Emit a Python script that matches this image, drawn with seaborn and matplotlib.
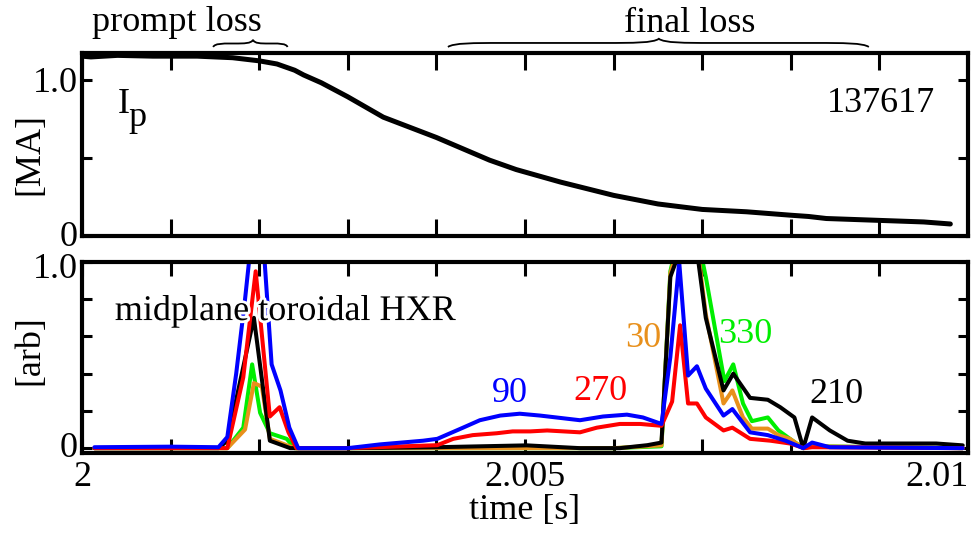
import numpy as np
import pandas as pd
import matplotlib
matplotlib.use("Agg")
import matplotlib.pyplot as plt
import matplotlib.transforms as mtransforms
import matplotlib.patheffects as pe
from matplotlib.path import Path
from matplotlib.patches import PathPatch
import seaborn as sns

# ---- plasma current, shot 137617 (time in ms after t = 2 s) ----
ip_ms = [0.0, 0.1, 0.4, 0.8, 1.3, 1.7, 2.0, 2.2, 2.4, 2.5, 2.7, 3.0, 3.4,
         4.0, 4.6, 4.9, 5.4, 6.0, 6.5, 7.0, 7.5, 8.0, 8.2, 8.4, 9.0, 9.5, 9.8]
ip_ma = [1.15, 1.145, 1.155, 1.15, 1.15, 1.14, 1.12, 1.10, 1.06, 1.03, 0.98,
         0.89, 0.76, 0.63, 0.485, 0.425, 0.345, 0.26, 0.205, 0.17, 0.155, 0.133,
         0.125, 0.112, 0.10, 0.09, 0.077]

# ---- midplane toroidal HXR array, normalised (time in ms after t = 2 s) ----
hxr90_ms = [0.14, 1.0, 1.54, 1.64, 1.74, 1.84, 1.94, 2.04, 2.14, 2.24,
            2.34, 2.44, 3.0, 3.36, 3.85, 4.01, 4.30, 4.49, 4.72, 4.94,
            5.17, 5.62, 5.88, 6.15, 6.33, 6.54, 6.64, 6.74, 6.84, 6.94,
            7.04, 7.24, 7.34, 7.54, 7.74, 7.94, 8.14, 8.24, 8.44, 9.94]
hxr90 = [0.005, 0.008, 0.005, 0.06, 0.40, 0.80, 1.25, 1.15, 0.45, 0.31,
         0.11, 0.0, 0.0, 0.02, 0.04, 0.05, 0.11, 0.15, 0.175, 0.185,
         0.175, 0.15, 0.17, 0.18, 0.165, 0.13, 0.49, 1.0, 0.39, 0.44,
         0.32, 0.175, 0.21, 0.085, 0.07, 0.04, 0.0, 0.03, 0.005, 0.0]

hxr270_ms = [0.14, 1.64, 1.82, 1.96, 2.12, 2.23, 2.33, 2.42, 3.0, 4.01,
             4.19, 4.41, 4.68, 4.86, 5.06, 5.25, 5.62, 5.81, 6.07, 6.30,
             6.54, 6.66, 6.75, 6.84, 6.94, 7.04, 7.24, 7.34, 7.54, 7.77,
             7.99, 8.15, 8.24, 9.94]
hxr270 = [0.0, 0.0, 0.38, 0.95, 0.17, 0.22, 0.085, 0.0, 0.0, 0.016,
          0.05, 0.07, 0.08, 0.09, 0.09, 0.095, 0.085, 0.11, 0.13, 0.13,
          0.12, 0.25, 0.66, 0.24, 0.24, 0.165, 0.095, 0.11, 0.05, 0.04,
          0.025, 0.0, 0.005, 0.0]

hxr210_ms = [0.14, 1.54, 1.64, 1.94, 2.12, 2.35, 3.0, 4.0, 5.02, 5.62,
             6.07, 6.38, 6.54, 6.64, 6.74, 6.94, 7.04, 7.24, 7.35, 7.54,
             7.74, 7.88, 8.04, 8.14, 8.24, 8.44, 8.64, 8.84, 9.64, 9.94]
hxr210 = [0.0, 0.0, 0.04, 0.70, 0.04, 0.0, 0.0, 0.005, 0.015, 0.0,
          0.0, 0.016, 0.03, 0.92, 1.05, 1.06, 0.70, 0.31, 0.40, 0.27,
          0.26, 0.22, 0.165, 0.0, 0.165, 0.095, 0.04, 0.025, 0.025, 0.015]

hxr30_ms = [0.14, 1.64, 1.84, 1.94, 2.03, 2.12, 2.40, 3.0, 6.0, 6.54,
            6.64, 6.74, 6.94, 7.04, 7.24, 7.34, 7.46, 7.56, 7.74, 7.86,
            7.99, 8.14, 8.24, 9.94]
hxr30 = [0.0, 0.0, 0.10, 0.35, 0.33, 0.05, 0.0, 0.0, 0.0, 0.015,
         0.94, 1.10, 1.10, 0.72, 0.24, 0.31, 0.165, 0.105, 0.105, 0.07,
         0.05, 0.0, 0.01, 0.0]

hxr330_ms = [0.14, 1.64, 1.82, 1.92, 2.01, 2.12, 2.31, 2.40, 3.0, 6.0,
             6.54, 6.64, 6.74, 6.94, 7.04, 7.25, 7.35, 7.46, 7.56, 7.74,
             7.86, 7.99, 8.14, 8.24, 9.94]
hxr330 = [0.0, 0.0, 0.11, 0.45, 0.19, 0.08, 0.05, 0.0, 0.0, 0.0,
          0.01, 0.95, 1.15, 1.15, 0.92, 0.36, 0.45, 0.24, 0.145, 0.165,
          0.095, 0.05, 0.0, 0.01, 0.0]

channel_labels = ["330", "30", "210", "270", "90"]
channel_colors = ["#00EE00", "#E8901C", "#000000", "#FF0000", "#0000FF"]
channel_times = [hxr330_ms, hxr30_ms, hxr210_ms, hxr270_ms, hxr90_ms]
channel_values = [hxr330, hxr30, hxr210, hxr270, hxr90]

x_ticks = [2.0, 2.001, 2.002, 2.003, 2.004, 2.005, 2.006, 2.007, 2.008, 2.009, 2.01]
x_ticklabels = ["2", "", "", "", "", "2.005", "", "", "", "", "2.01"]

T0 = 2.0
FS = 26


def to_s(ms):
    return T0 + np.asarray(ms) / 1000.0


sns.set_theme(style="ticks")
plt.rcParams.update({
    "font.family": ["Liberation Serif", "DejaVu Serif"],
    "font.size": FS,
    "axes.linewidth": 3.0,
    "text.color": "black",
    "axes.labelcolor": "black",
    "axes.edgecolor": "black",
    "xtick.color": "black",
    "ytick.color": "black",
    "xtick.labelsize": FS,
    "ytick.labelsize": FS,
    "axes.labelsize": FS,
})

fig = plt.figure(figsize=(9.74, 5.34), dpi=100)
ax1 = fig.add_axes([0.0842, 0.558, 0.9097, 0.3427])
ax2 = fig.add_axes([0.0842, 0.1517, 0.9097, 0.3577])

# ---- upper panel: plasma current ----
ip_df = pd.DataFrame({"t": to_s(ip_ms), "ip": ip_ma})
sns.lineplot(data=ip_df, x="t", y="ip", color="black", lw=3.6, ax=ax1)
ax1.set_xlim(2.0, 2.01)
ax1.set_ylim(0.0, 1.17)
ax1.set_yticks([0.0, 0.5, 1.0], ["0", "", "1.0"])
ax1.set_xticks(x_ticks, [""] * len(x_ticks))
ax1.set_xlabel("")
ax1.set_ylabel("[MA]", fontsize=FS)
ax1.yaxis.set_label_coords(-0.040, 0.45)
ax1.text(0.0406, 0.672, "I", transform=ax1.transAxes, fontsize=FS,
         ha="left", va="baseline")
ax1.text(0.052, 0.600, "p", transform=ax1.transAxes, fontsize=FS,
         ha="left", va="baseline")
ax1.text(0.963, 0.678, "137617", transform=ax1.transAxes, fontsize=FS,
         ha="right", va="baseline")

# ---- lower panel: HXR signals ----
for lab, col, tms, vals in zip(channel_labels, channel_colors,
                               channel_times, channel_values):
    df = pd.DataFrame({"t": to_s(tms), "v": vals})
    sns.lineplot(data=df, x="t", y="v", color=col, lw=2.9, ax=ax2)

ax2.set_xlim(2.0, 2.01)
ax2.set_ylim(-0.026, 1.0)
ax2.set_yticks([0.0, 1.0], ["0", "1.0"])
ax2.set_yticks([0.2, 0.4, 0.6, 0.8], minor=True)
ax2.set_xticks(x_ticks, x_ticklabels)
ax2.get_xticklabels()[-1].set_horizontalalignment("right")
ax2.set_xlabel("time [s]", fontsize=FS, labelpad=0)
ax2.set_ylabel("[arb]", fontsize=FS)
ax2.yaxis.set_label_coords(-0.040, 0.54)

halo = [pe.withStroke(linewidth=4, foreground="white")]
ax2.text(0.037, 0.696, "midplane toroidal HXR", transform=ax2.transAxes,
         fontsize=FS, ha="left", va="baseline", path_effects=halo, zorder=5)

label_pos = {"90": (0.483, 0.267), "270": (0.585, 0.277),
             "30": (0.633, 0.555), "330": (0.749, 0.576),
             "210": (0.852, 0.262)}
for lab, col in zip(channel_labels, channel_colors):
    x, y = label_pos[lab]
    ax2.text(x, y, lab, transform=ax2.transAxes, color=col, fontsize=FS,
             ha="center", va="baseline", zorder=5)

# ---- axes styling: ticks inward on all four sides ----
for ax in (ax1, ax2):
    ax.tick_params(axis="x", which="major", direction="in", top=True,
                   bottom=True, length=12, width=2.2, pad=6, labelsize=FS)
    ax.tick_params(axis="y", which="both", direction="in", left=True,
                   right=True, length=7, width=2.2, pad=3, labelsize=FS)
    for sp in ax.spines.values():
        sp.set_visible(True)
        sp.set_linewidth(3.0)
        sp.set_color("black")

ax2.tick_params(axis="x", which="major", length=10)


# nudge the y tick labels at the panel edges so they sit inside their panel
def nudge(label, dy_px):
    off = mtransforms.ScaledTranslation(0, dy_px / 100.0, fig.dpi_scale_trans)
    label.set_transform(label.get_transform() + off)


y1_labels = ax1.get_yticklabels()
nudge(y1_labels[0], 3)
y2_labels = ax2.get_yticklabels()
nudge(y2_labels[0], 4)
nudge(y2_labels[1], -4)


# ---- curly braces marking the loss phases ----
def brace(ax, x_left, x_mid, x_right, y_end, y_body, y_tip, frac):
    tr = mtransforms.blended_transform_factory(ax.transData, ax.transAxes)
    ql = (x_mid - x_left) * frac
    qr = (x_right - x_mid) * frac
    verts = [
        (x_left, y_end),
        (x_left + 0.1 * ql, y_body), (x_left + 0.5 * ql, y_body), (x_left + ql, y_body),
        (x_mid - ql, y_body),
        (x_mid - 0.5 * ql, y_body), (x_mid - 0.1 * ql, y_body), (x_mid, y_tip),
        (x_mid + 0.1 * qr, y_body), (x_mid + 0.5 * qr, y_body), (x_mid + qr, y_body),
        (x_right - qr, y_body),
        (x_right - 0.5 * qr, y_body), (x_right - 0.1 * qr, y_body), (x_right, y_end),
    ]
    codes = [Path.MOVETO,
             Path.CURVE4, Path.CURVE4, Path.CURVE4,
             Path.LINETO,
             Path.CURVE4, Path.CURVE4, Path.CURVE4,
             Path.CURVE4, Path.CURVE4, Path.CURVE4,
             Path.LINETO,
             Path.CURVE4, Path.CURVE4, Path.CURVE4]
    patch = PathPatch(Path(verts, codes), transform=tr, fill=False,
                      edgecolor="black", lw=1.3, clip_on=False)
    ax.add_patch(patch)


brace(ax1, 2.00148, 2.00193, 2.00232, 1.033, 1.052, 1.072, 0.45)
brace(ax1, 2.00413, 2.00651, 2.00888, 1.033, 1.055, 1.078, 0.25)

fig.text(0.1817, 0.942, "prompt loss", fontsize=FS, ha="center", va="baseline")
fig.text(0.708, 0.940, "final loss", fontsize=FS, ha="center", va="baseline")

fig.savefig("out.png", dpi=100)
